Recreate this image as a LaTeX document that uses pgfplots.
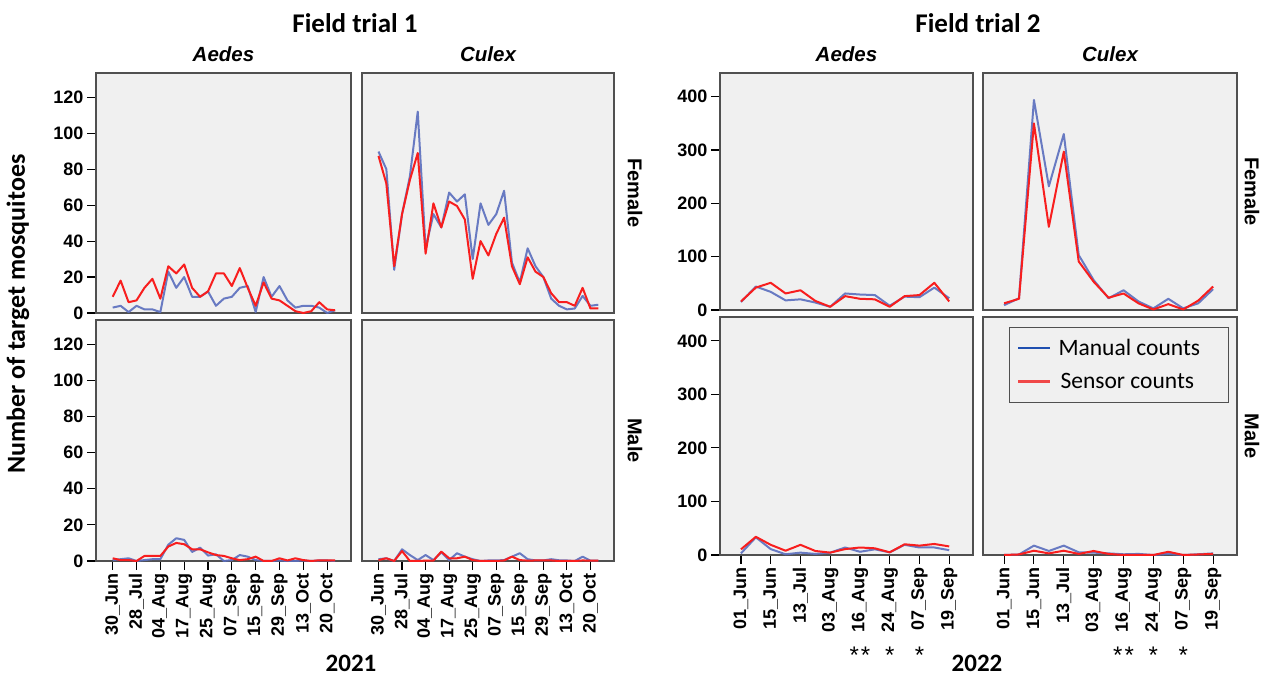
\documentclass[border=0pt]{standalone}
\usepackage{fontspec}
\setmainfont{Carlito}
\newfontfamily\arial{Liberation Sans}
\usepackage{pgfplots}
\pgfplotsset{compat=1.18}
\usepackage{pgfplotstable}

\definecolor{panelbg}{HTML}{F0F0F0}
\definecolor{framec}{HTML}{505050}
\definecolor{mblue}{HTML}{5A6EBE}
\definecolor{sred}{HTML}{F81E1E}
\definecolor{legblue}{HTML}{1F4FB0}
\definecolor{legred}{HTML}{F04848}

\newcommand\tickfont{\arial\bfseries\fontsize{18}{20}\selectfont}
\newcommand\sexfont{\arial\bfseries\fontsize{20}{22}\selectfont}
\newcommand\starfont{\arial\fontsize{24}{26}\selectfont}

% Field trial 1 (2021): columns Aedes female, Culex female, Aedes male, Culex male (m = manual, s = sensor)
\pgfplotstableread{
idx AFm AFs CFm CFs AMm AMs CMm CMs
0 3 9 89.8 87.4 0.5 1.5 1 0.5
1 4 18 80 72 1 0.5 1.5 1.5
2 0.5 6 24 26 1.5 0.5 0 0
3 4 7 55 55 0 0 6.5 5.5
4 2 14 76 74 0.5 2.8 3.3 0
5 2 19 112 89 1 2.8 0.5 0
6 0.5 8 36 33 1 2.8 3.3 0.2
7 23 26 55 61 9 8 0.5 0.2
8 14 22 47.6 47.6 12.6 10 4.8 5.2
9 20 27 67 62 11.7 9.3 0.5 1.5
10 9 14 62 59.5 5 6.5 4.3 1.5
11 9 9 66 52 7.4 6.5 2.4 2.4
12 12 12 30 19 3 4.8 1 0.5
13 4 22 61 40 3.7 3.3 0 0
14 8 22 49 32 0 2.8 0.3 0
15 9 15 55 44 0.5 1.5 0.3 0
16 14 25 68 53 3.3 0.5 0.5 0.3
17 15 14 28 26 2.4 1 2.4 2.4
18 0.5 4 17 16 0.5 2.4 4.3 0.5
19 20 17 36 31 0 0 1 0.2
20 9 8 26 23 0 0 0.3 0.3
21 15 7 20 20 0.3 1.5 0.3 0.3
22 7 4 8 11 0 0.3 1 0.3
23 3 1 4 6 0 1.5 0.4 0
24 4 0 2 6 0.3 0.5 0.3 0
25 4 1 2.5 4 0 0 0 0
26 3 6 9.5 14 0.3 0.4 2.4 0.3
27 0 2 4 2.5 0.3 0.4 0.2 0.2
28 1.5 1.5 4.6 2.5 0 0.3 0.2 0.2
}\ftone

% Field trial 2 (2022)
\pgfplotstableread{
idx AFm AFs CFm CFs AMm AMs CMm CMs
0 15 16 9 12.5 3 10.6 0 0
1 44 42 22 21 33 34 1 1
2 34 51 394 350 11 19 17.5 8
3 18 31 232 156 1.3 8 7.5 3
4 20 37 330 297 4.4 19 17.5 8
5 14 17 103 91 2 7.5 5 2
6 6 6 56 53 4.4 4.4 4.4 7.5
7 31 26 22 23 14 11 3 2
8 29 21 37 31 6 14 1.3 0
9 28 20 16 12.5 10.6 12.5 2 0
10 8 6 3 1 5 5 0 0
11 25 26 21 11 19 20 2 6
12 24 28 3 1 14 17.5 0 0
13 42 51 12.5 17.5 14 20.6 1.3 1
14 22 16 39 44 9 16 3 2
}\fttwo

\pgfplotsset{
  panel/.style={
    scale only axis, clip=false,
    axis background/.style={fill=panelbg},
    axis line style={draw=framec, line width=1.4pt},
    ymin=0, tick align=outside, major tick length=9pt,
    tick style={black, line width=1.1pt},
    xtick pos=bottom, ytick pos=left,
    yticklabel style={font=\tickfont},
    xticklabel style={font=\tickfont, rotate=90, anchor=east},
    /pgf/number format/assume math mode=true,
    every axis title/.style={at={(0.5,1)}, anchor=base, yshift=11pt,
      font=\arial\bfseries\itshape\fontsize{20.5}{22}\selectfont},
  },
  ft1/.style={panel, xmin=-2.1, xmax=30, ymax=133.5, ytick={0,20,...,120}},
  ft2/.style={panel, xmin=-1.41, xmax=15.6, ymax=444.5, ytick={0,100,...,400}},
  fem/.style={xtick=\empty},
  male1/.style={xtick={0,3,...,27},
    xticklabels={30\_Jun,28\_Jul,04\_Aug,17\_Aug,25\_Aug,07\_Sep,15\_Sep,29\_Sep,13\_Oct,20\_Oct}},
  male2/.style={xtick={0,2,...,14},
    xticklabels={01\_Jun,15\_Jun,13\_Jul,03\_Aug,16\_Aug,24\_Aug,07\_Sep,19\_Sep}},
  manual/.style={mblue, line width=2pt, line join=round, opacity=0.9, forget plot},
  sensor/.style={sred, line width=2pt, line join=round, forget plot},
}

\begin{document}
\begin{tikzpicture}
\useasboundingbox (0,0) rectangle (1261pt,676pt);

% ---------- Field trial 1 ----------
\begin{axis}[ft1, fem, at={(96pt,363pt)}, anchor=south west, width=255pt, height=240pt, title={Aedes}]
\addplot[manual] table[x=idx,y=AFm]{\ftone};
\addplot[sensor] table[x=idx,y=AFs]{\ftone};
\end{axis}
\begin{axis}[ft1, fem, ytick=\empty, at={(362pt,363pt)}, anchor=south west, width=252pt, height=240pt, title={Culex}]
\addplot[manual] table[x=idx,y=CFm]{\ftone};
\addplot[sensor] table[x=idx,y=CFs]{\ftone};
\node[rotate=-90, font=\sexfont] at ([xshift=21pt]rel axis cs:1,0.5) {Female};
\end{axis}
\begin{axis}[ft1, male1, at={(96pt,115pt)}, anchor=south west, width=255pt, height=241pt]
\addplot[manual] table[x=idx,y=AMm]{\ftone};
\addplot[sensor] table[x=idx,y=AMs]{\ftone};
\end{axis}
\begin{axis}[ft1, male1, ytick=\empty, at={(362pt,115pt)}, anchor=south west, width=252pt, height=241pt]
\addplot[manual] table[x=idx,y=CMm]{\ftone};
\addplot[sensor] table[x=idx,y=CMs]{\ftone};
\node[rotate=-90, font=\sexfont] at ([xshift=21pt]rel axis cs:1,0.5) {Male};
\end{axis}

% ---------- Field trial 2 ----------
\begin{axis}[ft2, fem, at={(720pt,366pt)}, anchor=south west, width=253pt, height=237pt, title={Aedes}]
\addplot[manual] table[x=idx,y=AFm]{\fttwo};
\addplot[sensor] table[x=idx,y=AFs]{\fttwo};
\end{axis}
\begin{axis}[ft2, fem, ytick=\empty, at={(983pt,366pt)}, anchor=south west, width=254pt, height=237pt, title={Culex}]
\addplot[manual] table[x=idx,y=CFm]{\fttwo};
\addplot[sensor] table[x=idx,y=CFs]{\fttwo};
\node[rotate=-90, font=\sexfont] at ([xshift=15pt]rel axis cs:1,0.5) {Female};
\end{axis}
\begin{axis}[ft2, male2, at={(720pt,121pt)}, anchor=south west, width=253pt, height=238pt]
\addplot[manual] table[x=idx,y=AMm]{\fttwo};
\addplot[sensor] table[x=idx,y=AMs]{\fttwo};
\node[font=\starfont, anchor=base] at ([yshift=-109pt]axis cs:8,0) {*\kern2pt*};
\node[font=\starfont, anchor=base] at ([yshift=-109pt]axis cs:10,0) {*};
\node[font=\starfont, anchor=base] at ([yshift=-109pt]axis cs:12,0) {*};
\end{axis}
\begin{axis}[ft2, male2, ytick=\empty, at={(983pt,121pt)}, anchor=south west, width=254pt, height=238pt,
  legend style={at={(0.102,0.958)}, anchor=north west, draw=framec, line width=0.8pt, fill=panelbg,
    font=\fontsize{23.5}{26}\selectfont, inner xsep=8pt, inner ysep=10pt, row sep=12pt,
    cells={anchor=west}, /tikz/every odd column/.append style={column sep=5pt}},
  legend image code/.code={\draw[#1, line width=2.2pt] (0pt,0pt) -- (32pt,0pt);}]
\addplot[manual] table[x=idx,y=CMm]{\fttwo};
\addplot[sensor] table[x=idx,y=CMs]{\fttwo};
\node[rotate=-90, font=\sexfont] at ([xshift=15pt]rel axis cs:1,0.5) {Male};
\node[font=\starfont, anchor=base] at ([yshift=-109pt]axis cs:8,0) {*\kern2pt*};
\node[font=\starfont, anchor=base] at ([yshift=-109pt]axis cs:10,0) {*};
\node[font=\starfont, anchor=base] at ([yshift=-109pt]axis cs:12,0) {*};
\addlegendimage{legblue}
\addlegendentry{Manual counts\kern18pt}
\addlegendimage{legred}
\addlegendentry{\kern2pt Sensor counts\kern18pt}
\end{axis}

% ---------- global texts ----------
\node[anchor=base, font=\bfseries\fontsize{27}{30}\selectfont] at (355pt,643pt) {Field trial 1};
\node[anchor=base, font=\bfseries\fontsize{27}{30}\selectfont] at (978pt,643pt) {Field trial 2};
\node[rotate=90, font=\bfseries\fontsize{26}{28}\selectfont] at (18pt,362pt) {Number of target mosquitoes};
\node[anchor=base, font=\bfseries\fontsize{25}{28}\selectfont] at (351pt,4pt) {2021};
\node[anchor=base, font=\bfseries\fontsize{25}{28}\selectfont] at (977pt,4pt) {2022};
\end{tikzpicture}
\end{document}
